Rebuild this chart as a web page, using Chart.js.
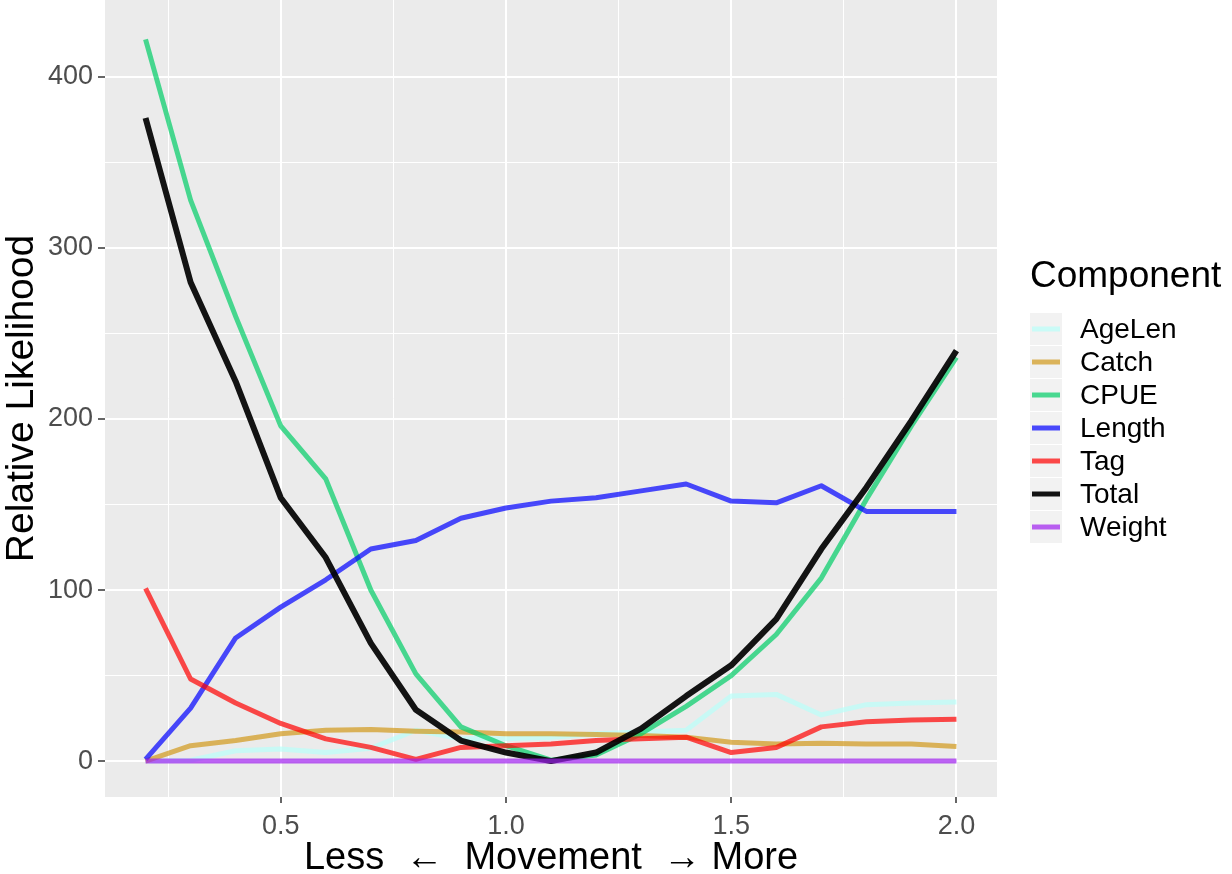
<!DOCTYPE html>
<html>
<head>
<meta charset="utf-8">
<script src="https://cdn.jsdelivr.net/npm/chart.js@4.4.1/dist/chart.umd.min.js"></script>
<style>
  html, body { margin: 0; padding: 0; background: #ffffff; }
  #wrap { width: 1232px; height: 874px; position: relative; }
</style>
</head>
<body>
<div id="wrap"><canvas id="canvas1" width="1232" height="874"></canvas></div>
<script>
// movement multiplier on the x axis
const movement = [0.2, 0.3, 0.4, 0.5, 0.6, 0.7, 0.8, 0.9, 1.0, 1.1, 1.2, 1.3, 1.4, 1.5, 1.6, 1.7, 1.8, 1.9, 2.0];

// relative likelihood per component
const ageLen = [0, 0.5, 6, 7, 5, 7.5, 18, 13, 13, 14, 16, 17, 18, 38, 39, 27, 33, 34, 34.5];
const catchL = [0, 9, 12, 16, 18, 18.5, 17.5, 17, 16, 16, 15.5, 15, 14, 11, 10, 10.5, 10, 10, 8.5];
const cpue   = [422, 328, 260, 196, 165, 100, 51, 20, 9, 0.5, 3.5, 16, 32, 50, 74, 107, 153, 196, 236];
const lengthL = [1, 31, 72, 90, 106, 124, 129, 142, 148, 152, 154, 158, 162, 152, 151, 161, 146, 146, 146];
const tag    = [101, 48, 34, 22, 13, 8, 1, 8, 9, 10, 12, 13, 14, 5, 8, 20, 23, 24, 24.5];
const total  = [376, 280, 222, 154, 119, 69, 30, 12, 5, 0, 5, 19, 38, 56, 83, 124, 160, 199, 240];
const weight = [0, 0, 0, 0, 0, 0, 0, 0, 0, 0, 0, 0, 0, 0, 0, 0, 0, 0, 0];

const components = ["AgeLen", "Catch", "CPUE", "Length", "Tag", "Total", "Weight"];
const seriesList = [ageLen, catchL, cpue, lengthL, tag, total, weight];
const lineColors = [
    'rgba(185,255,250,0.7)',
    'rgba(210,152,26,0.7)',
    'rgba(0,205,102,0.7)',
    'rgba(0,0,255,0.7)',
    'rgba(255,0,0,0.7)',
    'rgba(0,0,0,0.92)',
    'rgba(160,32,240,0.7)'
];

const FONT = "'Liberation Sans', Arial, sans-serif";

function pairs(ys) {
    return movement.map((x, i) => ({ x: x, y: ys[i] }));
}

const datasets = components.map((name, i) => ({
    label: name,
    data: pairs(seriesList[i]),
    borderColor: lineColors[i],
    backgroundColor: lineColors[i],
    borderWidth: name === 'Total' ? 6 : 5,
    borderJoinStyle: 'round',
    borderCapStyle: 'butt',
    pointRadius: 0,
    tension: 0,
    fill: false,
    order: components.length - i
}));

// grey panel behind the lines
const panelBg = {
    id: 'panelBg',
    beforeDraw(chart) {
        const { ctx, chartArea: a } = chart;
        ctx.save();
        ctx.fillStyle = '#ffffff';
        ctx.fillRect(0, 0, chart.width, chart.height);
        ctx.fillStyle = '#ebebeb';
        ctx.fillRect(a.left, a.top, a.right - a.left, a.bottom - a.top);
        ctx.restore();
    }
};

// ggplot style legend on the right
const sideLegend = {
    id: 'sideLegend',
    afterDraw(chart) {
        const ctx = chart.ctx;
        const x0 = 1030, firstY = 329, step = 33;
        ctx.save();
        ctx.fillStyle = '#000000';
        ctx.font = '37px ' + FONT;
        ctx.textBaseline = 'middle';
        ctx.textAlign = 'left';
        ctx.fillText('Component', x0, 277);
        ctx.font = '28px ' + FONT;
        chart.data.datasets.forEach((ds, i) => {
            const cy = firstY + i * step;
            ctx.fillStyle = '#f2f2f2';
            ctx.fillRect(x0, cy - step / 2 + 0.5, 32, step - 1);
            ctx.strokeStyle = ds.borderColor;
            ctx.lineWidth = 5;
            ctx.beginPath();
            ctx.moveTo(x0 + 2, cy);
            ctx.lineTo(x0 + 30, cy);
            ctx.stroke();
            ctx.fillStyle = '#000000';
            ctx.fillText(ds.label, 1080, cy + 1);
        });
        ctx.restore();
    }
};

function isMajor(v, unit) {
    return Math.abs(v / unit - Math.round(v / unit)) < 1e-6;
}

const config = {
    type: 'line',
    data: { datasets: datasets },
    options: {
        responsive: false,
        animation: false,
        layout: { padding: { top: 0, right: 235, bottom: 0, left: 0 } },
        plugins: {
            legend: { display: false },
            tooltip: { enabled: false }
        },
        scales: {
            x: {
                type: 'linear',
                min: 0.11,
                max: 2.09,
                border: { display: false },
                grid: {
                    color: '#ffffff',
                    lineWidth: (c) => c.tick && isMajor(c.tick.value, 0.5) ? 2 : 1,
                    tickColor: (c) => c.tick && isMajor(c.tick.value, 0.5) ? '#333333' : 'rgba(0,0,0,0)',
                    tickLength: 6,
                    tickWidth: 1.5
                },
                ticks: {
                    stepSize: 0.25,
                    includeBounds: false,
                    autoSkip: false,
                    maxRotation: 0,
                    padding: 7,
                    color: '#4d4d4d',
                    font: { family: FONT, size: 27 },
                    callback: (v) => isMajor(v, 0.5) ? v.toFixed(1) : ''
                },
                title: {
                    display: true,
                    text: 'Less  \u2190  Movement  \u2192 More',
                    color: '#000000',
                    font: { family: FONT, size: 38, lineHeight: 0.8 },
                    padding: { top: 0, bottom: 0 }
                },
                afterFit: (s) => { s.height = 77; s.paddingLeft = 0; s.paddingRight = 0; }
            },
            y: {
                type: 'linear',
                min: -21,
                max: 445,
                border: { display: false },
                grid: {
                    color: '#ffffff',
                    lineWidth: (c) => c.tick && isMajor(c.tick.value, 100) ? 2 : 1,
                    tickColor: (c) => c.tick && isMajor(c.tick.value, 100) ? '#333333' : 'rgba(0,0,0,0)',
                    tickLength: 7,
                    tickWidth: 1.5
                },
                ticks: {
                    stepSize: 50,
                    includeBounds: false,
                    autoSkip: false,
                    padding: 5,
                    color: '#4d4d4d',
                    font: { family: FONT, size: 27 },
                    callback: (v) => isMajor(v, 100) ? String(v) : ''
                },
                title: {
                    display: true,
                    text: 'Relative Likelihood',
                    color: '#000000',
                    font: { family: FONT, size: 39, lineHeight: 1 },
                    padding: { top: 3, bottom: 0 }
                },
                afterFit: (s) => { s.width = 105; s.paddingTop = 0; s.paddingBottom = 0; }
            }
        }
    },
    plugins: [panelBg, sideLegend]
};

const chart = new Chart(document.getElementById('canvas1'), config);
</script>
</body>
</html>
